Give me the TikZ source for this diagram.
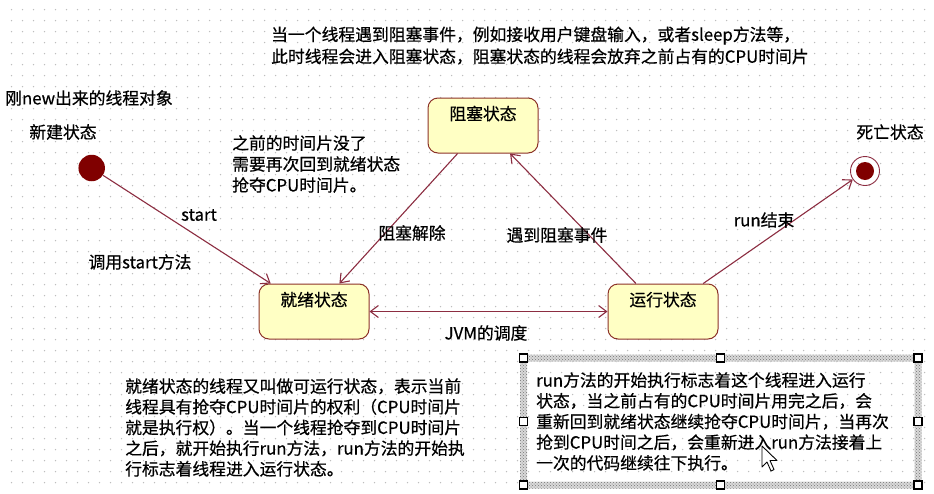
\documentclass[tikz,border=0pt]{standalone}
\usepackage{fontspec}
\setmainfont[UprightFeatures={FakeBold=0.5}]{Noto Sans CJK SC}
\usepackage{tikz}
\usetikzlibrary{arrows.meta,positioning,calc,patterns}

\definecolor{linered}{RGB}{140,45,65}
\definecolor{boxred}{RGB}{140,50,40}
\definecolor{boxfill}{RGB}{255,255,196}
\definecolor{dotred}{RGB}{128,0,0}
\definecolor{gridgray}{RGB}{190,190,190}

\begin{document}
\begin{tikzpicture}[
      x=1pt, y=-1pt,
      >={Straight Barb[length=8pt,width=12pt]},
      font=\fontsize{16.8}{20.7}\selectfont,
      state/.style={draw=boxred, fill=boxfill, rounded corners=10pt, line width=1pt,
        minimum width=110pt, inner ysep=8pt, text height=14pt, text depth=25pt},
      startstate/.style={circle, fill=dotred, minimum size=26.5pt, inner sep=0pt},
      endstate/.style={circle, draw=linered, line width=0.9pt, minimum size=29pt, inner sep=0pt,
        path picture={\fill[dotred] (path picture bounding box.center) circle (9pt);}},
      trans/.style={->, draw=linered, line width=1.1pt},
      note/.style={align=left, inner sep=0pt, anchor=west},
      lbl/.style={inner sep=0pt},
      handle/.style={draw=black, fill=white, line width=1.2pt, minimum size=8pt, inner sep=0pt}
    ]
    \useasboundingbox (0,0) rectangle (934,493);
    \fill[white] (0,0) rectangle (934,493);
    \foreach \x in {11.5,22.5,...,930}
      \foreach \y in {9.5,20.5,...,490}
        \fill[gridgray] (\x,\y) circle (0.75pt);

    % states
    \node[startstate] (init) at (91.7,168) {};
    \node[state] (blocked) at (483,125.5) {阻塞状态};
    \node[state] (ready) at (314,311.5) {就绪状态};
    \node[state] (running) at (663,311.5) {运行状态};
    \node[endstate] (dead) at (865,171) {};

    \node[lbl] (newname) at (63,132) {新建状态};
    \node[lbl] (deadname) at (890,132) {死亡状态};
    \node[note] (newobj) at (5,98) {刚new出来的线程对象};

    % transitions
    \draw[trans] (init) -- (ready);
    \draw[trans] (blocked) -- (ready);
    \draw[trans] (running) -- (blocked);
    \draw[trans] (running) -- (dead);
    \draw[trans, <->] (ready) -- (running);

    \node[lbl] (startlbl) at (199,215) {start};
    \node[lbl] (calllbl) at (140,262) {调用start方法};
    \node[lbl] (unblock) at (412,233) {阻塞解除};
    \node[lbl] (blockev) at (557,235) {遇到阻塞事件};
    \node[lbl] (runend) at (764,220) {run结束};
    \node[lbl] (jvm) at (486,333) {JVM的调度};

    % notes
    \node[note, font=\fontsize{16.8}{22}\selectfont] (topnote) at (271,45.5)
      {当一个线程遇到阻塞事件，例如接收用户键盘输入，或者sleep方法等，\\
       此时线程会进入阻塞状态，阻塞状态的线程会放弃之前占有的CPU时间片};
    \node[note, font=\fontsize{16.8}{21}\selectfont] (slicenote) at (232,164)
      {之前的时间片没了\\需要再次回到就绪状态\\抢夺CPU时间片。};
    \node[note] (readynote) at (125,427.5)
      {就绪状态的线程又叫做可运行状态，表示当前\\
       线程具有抢夺CPU时间片的权利（CPU时间片\\
       就是执行权）。当一个线程抢夺到CPU时间片\\
       之后，就开始执行run方法，run方法的开始执\\
       行标志着线程进入运行状态。};

    % selected note
    \fill[gray!30, even odd rule]
      (520,354.5) rectangle (921.5,488.5) (527,361.5) rectangle (914.5,481.5);
    \fill[pattern=crosshatch dots, pattern color=gray!90!black, even odd rule]
      (520,354.5) rectangle (921.5,488.5) (527,361.5) rectangle (914.5,481.5);
    \node[note] (runnote) at (536,421.5)
      {run方法的开始执行标志着这个线程进入运行\\
       状态，当之前占有的CPU时间片用完之后，会\\
       重新回到就绪状态继续抢夺CPU时间片，当再次\\
       抢到CPU时间之后，会重新进入run方法接着上\\
       一次的代码继续往下执行。};
    \foreach \p [count=\i] in {(523.5,358),(720.75,358),(918,358),(523.5,421.5),
                               (918,421.5),(523.5,485),(720.75,485),(918,485)}
      \node[handle] (h\i) at \p {};

    % mouse pointer
    \filldraw[fill=white, draw=black, line width=0.9pt, line join=round]
      (762,446) -- (762,467) -- (767,462) -- (771,471) -- (774,469.5) -- (770,460.5) -- (777,460.5) -- cycle;
  \end{tikzpicture}
\end{document}
